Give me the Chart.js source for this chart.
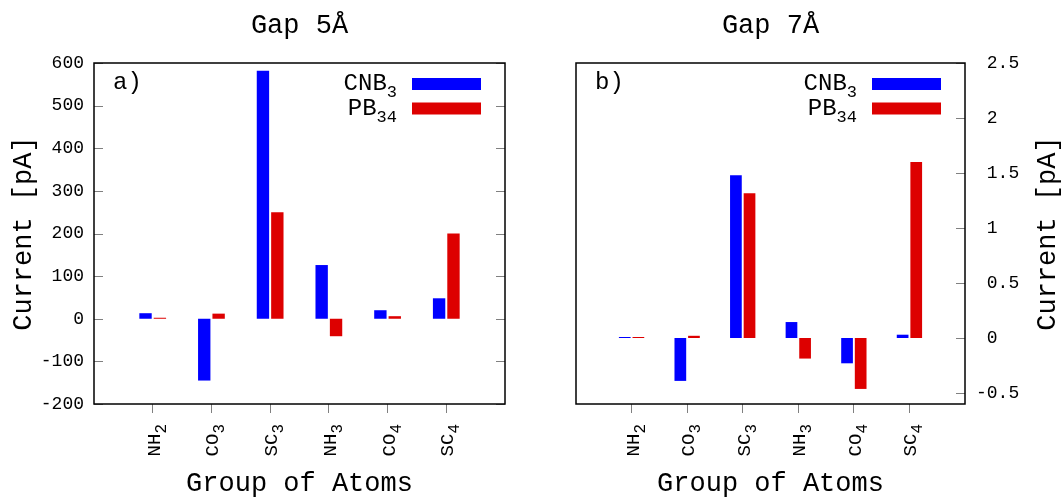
<!DOCTYPE html>
<html>
<head>
<meta charset="utf-8">
<script src="https://cdn.jsdelivr.net/npm/chart.js@4.4.1/dist/chart.umd.min.js"></script>
<style>
  body { margin: 0; background: #fff; }
  #wrap { position: relative; width: 1063px; height: 497px; }
  #wrap canvas { position: absolute; top: 0; }
  #gap5 { left: 0; }
  #gap7 { left: 540px; }
</style>
</head>
<body>
<div id="wrap">
  <canvas id="gap5" width="540" height="497"></canvas>
  <canvas id="gap7" width="523" height="497"></canvas>
</div>
<script>
const categories = ["NH₂", "CO₃", "SC₃", "NH₃", "CO₄", "SC₄"];
const seriesNames = ["CNB₃", "PB₃₄"];
const seriesColors = ["#0000ff", "#dd0000"];

// Gap 5 Å, current in pA
const gap5Cnb3 = [13, -145, 582, 126, 20, 48];
const gap5Pb34 = [1, 12, 250, -41, 6, 200];

// Gap 7 Å, current in pA
const gap7Cnb3 = [0.003, -0.39, 1.48, 0.145, -0.23, 0.03];
const gap7Pb34 = [0.003, 0.02, 1.315, -0.187, -0.463, 1.6];

const gap5Range = { min: -200, max: 600, step: 100 };
const gap7Range = { min: -0.6, max: 2.5, step: 0.5 };

const FONT = '"Liberation Mono", "DejaVu Sans Mono", monospace';
const SUBS = "₀₁₂₃₄₅₆₇₈₉";

// "CNB₃" -> ["CNB", "3"]
function splitSub(s) {
    let i = s.length;
    while (i > 0 && SUBS.includes(s[i - 1])) i--;
    const sub = [...s.slice(i)].map(c => SUBS.indexOf(c)).join("");
    return [s.slice(0, i), sub];
}

// draws text with a subscript, right end at xRight
function drawRich(ctx, text, xRight, yBase, size, subSize, subDrop) {
    const [main, sub] = splitSub(text);
    ctx.font = size + "px " + FONT;
    const w1 = ctx.measureText(main).width;
    ctx.font = subSize + "px " + FONT;
    const w2 = sub ? ctx.measureText(sub).width : 0;
    const x0 = xRight - w1 - w2;
    ctx.textAlign = "left";
    ctx.textBaseline = "alphabetic";
    ctx.font = size + "px " + FONT;
    ctx.fillText(main, x0, yBase);
    if (sub) {
        ctx.font = subSize + "px " + FONT;
        ctx.fillText(sub, x0 + w1, yBase + subDrop);
    }
}

const framePlugin = {
    id: "frame",
    afterDatasetsDraw(chart, args, opts) {
        const ctx = chart.ctx;
        const { left, right, top, bottom } = chart.chartArea;
        const xs = chart.scales.x;
        const ys = chart.scales.y;

        ctx.save();

        // inward y ticks
        ctx.strokeStyle = "#808080";
        ctx.lineWidth = 1;
        ys.ticks.forEach(t => {
            const py = Math.round(ys.getPixelForValue(t.value)) + 0.5;
            ctx.beginPath();
            if (opts.leftTicks) {
                ctx.moveTo(left, py);
                ctx.lineTo(left + 9, py);
            }
            ctx.moveTo(right - 9, py);
            ctx.lineTo(right, py);
            ctx.stroke();
        });

        // box
        ctx.strokeStyle = "#000";
        ctx.lineWidth = 1.5;
        ctx.strokeRect(left, top, right - left, bottom - top);

        ctx.fillStyle = "#000";

        // category labels, rotated
        categories.forEach((c, i) => {
            const px = xs.getPixelForValue(i);
            ctx.save();
            ctx.translate(px + 7, bottom + 20);
            ctx.rotate(-Math.PI / 2);
            drawRich(ctx, c, 0, 0, 19, 16, 6);
            ctx.restore();
        });

        // legend
        chart.data.datasets.forEach((ds, i) => {
            const sy = top + 15 + i * 24.5;
            const sx = right - 24 - 69;
            ctx.fillStyle = ds.backgroundColor;
            ctx.fillRect(sx, sy, 69, 12);
            ctx.fillStyle = "#000";
            drawRich(ctx, ds.label, sx - 15, sy + 12, 24, 17, 7);
        });

        // panel tag
        ctx.font = "24px " + FONT;
        ctx.textAlign = "left";
        ctx.textBaseline = "alphabetic";
        ctx.fillText(opts.tag, left + 19, top + 26);

        // title
        ctx.font = "27px " + FONT;
        ctx.textAlign = "center";
        ctx.fillText(opts.title, (left + right) / 2, 33);

        // x title
        ctx.fillText("Group of Atoms", (left + right) / 2, 491);

        // y title
        ctx.save();
        ctx.translate(opts.yTitleX, (top + bottom) / 2);
        ctx.rotate(-Math.PI / 2);
        ctx.fillText("Current [pA]", 0, 0);
        ctx.restore();

        ctx.restore();
    }
};

function makeChart(id, cnb, pb, range, cfg) {
    const pts = vals => vals.map((v, i) => ({ x: i, y: v }));
    return new Chart(document.getElementById(id), {
        type: "bar",
        data: {
            datasets: [
                { label: seriesNames[0], data: pts(cnb), backgroundColor: seriesColors[0] },
                { label: seriesNames[1], data: pts(pb), backgroundColor: seriesColors[1] }
            ]
        },
        options: {
            responsive: false,
            animation: false,
            devicePixelRatio: 1,
            categoryPercentage: 0.49,
            barPercentage: 0.86,
            minBarLength: 1,
            borderWidth: 0,
            layout: { padding: { top: 63, bottom: 0, left: cfg.padLeft, right: cfg.padRight } },
            scales: {
                x: {
                    type: "linear",
                    min: -1,
                    max: 6,
                    offset: false,
                    ticks: { display: false, stepSize: 1 },
                    grid: {
                        offset: false,
                        drawOnChartArea: false,
                        drawTicks: true,
                        tickLength: 9,
                        tickColor: c => (c.tick && c.tick.value >= 0 && c.tick.value < categories.length) ? "#808080" : "rgba(0,0,0,0)"
                    },
                    border: { display: false },
                    afterFit: s => { s.height = 93; }
                },
                y: {
                    position: cfg.axisSide,
                    min: range.min,
                    max: range.max,
                    ticks: {
                        stepSize: range.step,
                        includeBounds: false,
                        padding: cfg.tickPad,
                        color: "#000",
                        font: { family: FONT, size: 18 },
                        callback: cfg.fmt
                    },
                    grid: { display: false, drawTicks: false },
                    border: { display: false },
                    afterFit: s => { s.width = cfg.axisWidth; }
                }
            },
            plugins: {
                legend: { display: false },
                tooltip: { enabled: false },
                frame: {
                    title: cfg.title,
                    tag: cfg.tag,
                    leftTicks: cfg.axisSide === "left",
                    yTitleX: cfg.yTitleX
                }
            }
        },
        plugins: [framePlugin]
    });
}

makeChart("gap5", gap5Cnb3, gap5Pb34, gap5Range, {
    title: "Gap 5Å", tag: "a)", axisSide: "left", axisWidth: 94,
    padLeft: 0, padRight: 35, tickPad: 10, yTitleX: 31,
    fmt: v => String(v)
});

makeChart("gap7", gap7Cnb3, gap7Pb34, gap7Range, {
    title: "Gap 7Å", tag: "b)", axisSide: "right", axisWidth: 98,
    padLeft: 36, padRight: 0, tickPad: 11, yTitleX: 515,
    fmt: v => (v < 0 ? "" : " ") + v
});
</script>
</body>
</html>
